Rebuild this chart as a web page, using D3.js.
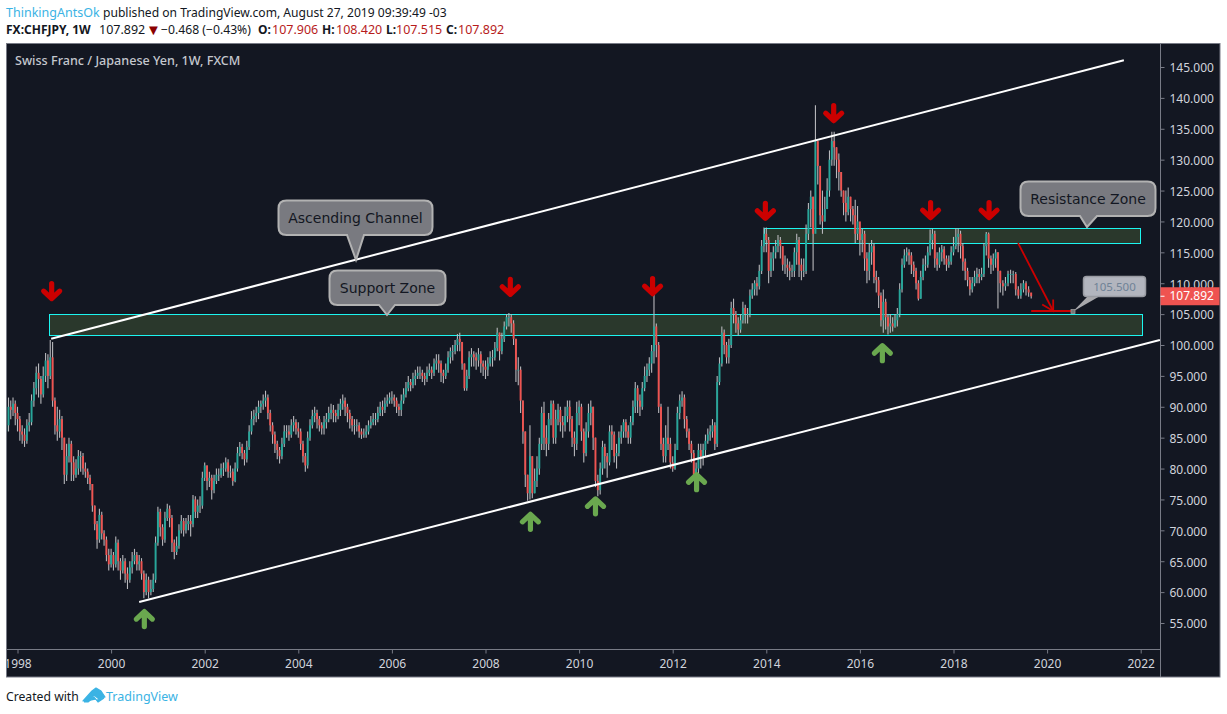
<!DOCTYPE html>
<html><head><meta charset="utf-8">
<script src="https://cdn.jsdelivr.net/npm/d3@7"></script>
<style>html,body{margin:0;padding:0;background:#fff}svg{display:block}text{font-family:"Noto Sans",sans-serif}</style>
</head><body><div id="c"></div>
<script>
// candles per year: [close, high, low]; evenly spread across the year
const y1997=[[87,90,84],[90,91.5,86],[89.5,91,88],[90.5,91.5,88.5],[89,91,87]];
const y1998=[[88,90,86],[86,88.5,84.5],[85.5,87,84],[84.5,86.5,83.5],[87,88,84],[87.5,89,86],[91,92,87],[93,94,90],[95.5,96.5,92],[94.5,97,91.5],[92,95,90.5],[95,96.5,91.5],[97.5,98.7,94],[95,98.5,93],[98,100.8,94.5],[91,100.5,90],[87,91.5,85.5],[86,90,84.5],[88,89.5,85],[85,88.5,83]];
const y1999=[[79,85,77.5],[82,84,78],[84,85,81],[81,84.5,78],[79,82,78],[80,81.5,78.5],[82,83,79],[82,82.8,79.5],[80,82.5,79],[79.5,81,78.5],[78.5,80,77.5],[77.5,79,76.5],[74,77.5,73],[71,74,70],[68.5,71.5,67],[72.5,73.5,68],[69.5,73,68.5],[68.5,70,67.5],[66,69,65],[64.5,67,63.5]];
const y2000=[[66,67,64],[64.5,66.5,63.5],[68,69,64],[65,68.5,63.5],[63.5,65.5,62],[65,66,63],[63,65.5,61.5],[62,64,60.5],[64,65,61.5],[65,66.5,63],[66,67,64.5],[64.5,66.5,63.5],[65,66,63.5],[63,65.5,62],[60,63.5,59],[62,63,59.5],[60,62.5,59],[60.5,62,59.5],[62,63,60],[68,69,61.5]];
const y2001=[[73,73.8,67.5],[70.5,73.5,69],[68.5,71,67.5],[72,73,68],[73.5,74.3,71.5],[72,74,70.5],[68,72.5,66.5],[66.5,68.5,65.3],[67.5,69,66],[70,71,67],[71.5,72.5,69.5],[70,72,69],[71,72,69.5],[71.5,72.5,70],[71,72.5,69],[75,75.7,70.5],[73,75.5,72],[74,75,72],[74,75.5,72.8],[78.5,79.5,73.5]];
const y2002=[[80.5,81,78],[78,80.5,76.5],[78.5,79.5,77],[76.5,79,75],[78,79,76],[79,80,77.5],[79,80,78],[80,80.8,78.5],[80,81,78.8],[81,81.8,79.5],[79.5,81.5,78.5],[79.5,80.5,78.5],[78,80,77.2],[80,81,77.8],[82.5,83.5,79.5],[83.5,84.3,82],[82.5,84,81.5],[81.5,83,80.5],[83.5,84.5,81],[86,87,83]];
const y2003=[[88,89.3,85.5],[88.5,89.5,87],[89,90,87.5],[90,91,88],[90.5,91,89],[91,92,89.5],[91.5,92.6,90],[89,92,88],[87,89.5,86],[85.5,87.5,84],[84,86,82.5],[83,84.5,81.5],[82,83.5,80.8],[84,85,81.5],[86,87,83.5],[86,87,85],[85.5,87,84.5],[87,88,85],[87.5,88.5,86],[86.5,88,85.5]];
const y2004=[[86,87.5,85],[84,86.5,83],[82,84.5,81],[80.5,82.5,79.5],[85,86,80],[87,88,84.5],[88.5,89.5,86.5],[89,90,87.5],[88,89.5,86.5],[87,88.5,86],[86.5,87.5,85.5],[87.5,88.5,85.5],[88,89,86.5],[89,90,87.5],[89.5,90.5,88],[89,90.3,87.5],[88.5,89.5,87.5],[89.5,90.5,88],[90.5,91.3,88.5],[91,92,89.5]];
const y2005=[[90,91.5,88.5],[89,90.5,87.5],[88,89.5,86.5],[87,88.5,86],[87,88,85.5],[87,88,86],[86,87.5,85],[85.5,86.5,84.8],[85.5,86.5,85],[86,87,85],[87,87.8,85.5],[87.5,88.5,86.5],[88,89,87],[88,89,87],[89,90,87.5],[90,90.8,88.5],[89.5,91,88.5],[90.5,91.5,89],[91,92,90],[91.5,92.3,90.5]];
const y2006=[[91.5,92.5,90.5],[91,92,90],[90,91.5,89],[89.5,90.5,88.5],[91,92,88.5],[92,93,90.5],[93,94,91.5],[94,95,92.5],[93.5,94.5,92.5],[94.5,95.5,93],[95,96,93.5],[95.5,96.5,94.5],[95.5,96.5,94.5],[95,96,94],[94.5,95.5,93.5],[95.5,96.5,94],[96,97,95],[95.5,96.5,94.5],[97,97.8,95],[97.5,98.5,96]];
const y2007=[[97,98.5,95.5],[95.5,97.5,94],[95,96,93.8],[96,97,94.5],[98,99,95.5],[99,99.6,97],[99,100,97.5],[100,100.8,98.5],[101,101.8,99],[100.5,102,99],[97,100.5,96],[93,97,92.6],[95,96,92.6],[98,99,94.5],[98.5,99.5,96.5],[98,99,96.5],[97.5,98.8,96],[98.5,99.5,96.5],[97,99,95.5],[96.5,97.5,95]];
const y2008=[[96,97.5,94.5],[97,98,95],[98,99,96.5],[98,99.2,96.5],[99.5,100.5,97.5],[102,102.8,99],[99,102,97.5],[101,102,98.5],[103,103.8,100.5],[104.5,105,102.5],[104.5,105.2,103],[103.5,105,102],[101,104,100],[96,101,94],[96,98,93.5],[91,96.5,89],[86,91,84],[79,86,77],[76,79,74.8],[82,87,75]];
const y2009=[[76,82,75.2],[78,80,76],[80,82,77],[84,85,79],[89,90,83],[85,90.8,83],[84,87,82],[88,89,83],[90.5,91,87],[85,91,84],[88,89.5,84],[89.5,90.5,87],[87.5,90,86],[87,88.5,85],[88.5,90,86],[90,91,87.5],[88,91,86],[85,88.5,83.5],[84,86,82],[89,90.8,83]];
const y2010=[[90,91,87],[86,90.5,84.5],[82.5,86.5,81],[86,87.5,82],[89,90.5,85],[90,91,87],[85,90,83],[78,85,77],[76.5,79,75.5],[80,81,75.8],[83.5,84.5,79],[82,84,80],[81,82.5,78.5],[86,87,80.5],[85.5,87,83],[82,86,81],[82.5,84,80],[85,86,82],[86,87,84],[87.5,88,85]];
const y2011=[[86,88,85],[85,87,84],[87.5,88.5,84],[90,91,87],[93,94,89],[91,93.5,89],[90,92,88.5],[93,94,89.5],[95,96.5,92.5],[96,97,94],[97,98,95],[99,100,95.5],[103,108.8,97],[100,103.5,98],[90,100.5,89],[84,90.5,83],[82,85,81],[85,87,81],[84,90,83],[81,85,80]];
const y2012=[[80,82,79.5],[83,84,79.8],[89,90,83],[91,92,88],[91.5,92.5,90],[88,92,86.5],[86,88.5,85],[84,86.5,83],[82.5,84.5,81],[79,83,78.5],[80,81,78],[83,84,79],[82,84,80],[83,84,80.5],[84.5,85.5,82],[85.5,86.5,84],[86,87,84.5],[87,88,85],[84,87.5,83],[94,95,83.5]];
const y2013=[[97,98,93.5],[102,103,96.5],[100,102.5,98.5],[98,100.5,97],[100,101,97],[106,107,99.5],[105,107.5,103.5],[103.5,105.5,102],[102.5,104.5,101.5],[104,105,102],[106,107,103.5],[105,106.5,103.5],[105,106,103.5],[108,109,104.5],[109,110,107.5],[110,110.5,108],[109.5,111,108],[112,113,109],[116,117,111.5],[118,119,115]];
const y2014=[[117,119,115],[112,117.5,110],[114,115,111],[115,116,112],[116,117,114],[117,117.8,115],[116,117.5,114],[113,116,112],[113,114.5,111.5],[112.5,114,111],[112,113.5,110.5],[112,113,111],[115,115.8,111],[117,118,113],[113,117.5,111],[112,114,110.5],[112,114,111],[118,119.5,111.5],[122,123,117],[124,125,119]];
const y2015=[[118,124,112],[133,138.8,122],[129,133,126],[121,126,119.5],[120,125,118],[122,124,120],[125,127,122],[130,131.5,124],[133,134.5,129],[132,134.5,129],[130,132,127],[128,131,125],[125,128,124],[123,125,121],[121.5,125,120],[124,125.5,121],[122,124,120],[121,122.5,119.5],[118,123.5,116.5],[120,122.5,117]];
const y2016=[[117,119,114.5],[118,118.8,115],[114,118.5,112],[112,115,110],[115,116.5,110.5],[116,117,113],[111,116.5,110],[110.5,112,108.5],[108,111,106],[104,108.5,103],[107,109,102],[104.5,107.5,102.5],[103,105,101.7],[103.5,105,102],[103,104.5,102.2],[104,105,102.8],[105,106,103],[109,110,104.5],[113,114,108.5],[114.5,115.5,112.5]];
const y2017=[[115,115.8,113.5],[114.5,115.5,113],[113,115,111.5],[112,113.5,111],[110,112.5,109],[107.5,110.5,107.2],[111,112,107.5],[113,114,110.5],[113,114.5,112],[115,116,112.5],[117,118.7,114.5],[118,118.8,115.5],[114,118.5,112.5],[113,115,112],[115,115.8,112.5],[115.5,116.2,113.5],[114,116,113],[113,114.5,112],[113.5,114.5,112.5],[115,116,113]];
const y2018=[[116,117.5,114.5],[117.5,118.9,115.5],[118,118.9,115],[116,118.5,114],[113.5,116.5,112],[112,114,110.5],[110.5,112.5,109.5],[109,111,108],[110,111,108.5],[111,112,109.5],[111.5,112.5,110],[111,112.3,110],[111.5,112.5,110.5],[116,116.5,111],[118,118.3,114.5],[114,118.2,112.5],[113,114.5,111.5],[114,114.8,112],[115,115.5,112.5],[112,115,105.9]];
const y2019=[[110,112,108.5],[109.5,110.5,108],[110,111,108.8],[111.5,112,109.5],[111.5,112.2,110],[111.5,112,110],[109,111.8,108],[108,109.5,107.5],[109,110,107.5],[110,110.5,108.5],[109,110.3,108],[108.5,109.5,107.8],[107.892,108.42,107.515]];
const yearStarts=[1997.76,1998,1999,2000,2001,2002,2003,2004,2005,2006,2007,2008,2009,2010,2011,2012,2013,2014,2015,2016,2017,2018,2019];
const yearEnds=[1998,1999,2000,2001,2002,2003,2004,2005,2006,2007,2008,2009,2010,2011,2012,2013,2014,2015,2016,2017,2018,2019,2019.66];
const yearRows=[y1997,y1998,y1999,y2000,y2001,y2002,y2003,y2004,y2005,y2006,y2007,y2008,y2009,y2010,y2011,y2012,y2013,y2014,y2015,y2016,y2017,y2018,y2019];

const xTicks=[1998,2000,2002,2004,2006,2008,2010,2012,2014,2016,2018,2020,2022];
const yTicks=[55,60,65,70,75,80,85,90,95,100,105,110,115,120,125,130,135,140,145];
const channelUpper=[[1998.72,101],[2021.64,146.1]];
const channelLower=[[2000.6,58.4],[2022.41,100.8]];
const zoneSupport=[1998.69,2022.04,105,101.6];
const zoneResistance=[2013.97,2021.99,118.8,116.5];
const downYears=[1998.73,2008.53,2011.57,2013.98,2015.44,2017.51,2018.76];
const downPrices=[107.1,107.8,107.9,120.1,135.9,120.2,120.2];
const upYears=[2000.71,2008.96,2010.35,2012.51,2016.48];
const upPrices=[57.25,73,75.5,79.4,100.3];
const lastPrice=107.892, targetPrice=105.5;
const projection=[[2019.38,116.5],[2020.13,105.5]];
const targetLine=[[2019.66,105.5],[2020.55,105.5]];

const W=1227,H=714,L=7,R=1160,T=44,B=650,FB=677,FR=1220;
const x=d3.scaleLinear().domain([1998,2022]).range([17.5,1140.7]);
const y=d3.scaleLinear().domain([55,145]).range([623,67]);
const svg=d3.select("#c").append("svg").attr("width",W).attr("height",H);
const defs=svg.append("defs");
defs.append("clipPath").attr("id","plot").append("rect").attr("x",L).attr("y",T).attr("width",R-L).attr("height",B-T);
defs.append("clipPath").attr("id","xa").append("rect").attr("x",L).attr("y",B).attr("width",R-L).attr("height",FB-B);

svg.append("rect").attr("x",6.5).attr("y",43.5).attr("width",FR-6.5).attr("height",FB-43.5).attr("fill","#131722").attr("stroke","#787b86");

// header
const hdr=(t,xp,yp,o={})=>svg.append("text").attr("x",xp).attr("y",yp).text(t).attr("font-size",o.s||12).attr("font-weight",o.b?700:400).attr("fill",o.c||"#131722");
hdr("ThinkingAntsOk",6,17,{c:"#3bb3e4",s:12.5});
hdr("published on TradingView.com, August 27, 2019 09:39:49 -03",103,17,{s:12.1});
hdr("FX:CHFJPY, 1W",6,34,{b:1,s:12});
hdr("107.892",99,34,{s:12.5});
hdr("▼",146,35,{c:"#8b0000",s:15});
hdr("−0.468 (−0.43%)",161,34,{s:12.2});
[["O:",258,"107.906",272],["H:",322,"108.420",336],["L:",386,"107.515",396],["C:",446,"107.892",458]].forEach(d=>{
  hdr(d[0],d[1],34,{b:1,s:12});hdr(d[2],d[3],34,{c:"#b71c1c",s:12.5});
});
hdr("Created with",6,701,{s:12.2});
hdr("TradingView",106,701,{c:"#3bb3e4",s:12.5});
svg.append("path").attr("d","M83,701 L92,691 L96,688 L101,691 L105,697 L99,699 L94,695 L88,701 Z M84,702 L88,702 L94,697 L98,702 L104,698").attr("fill","#3bb3e4").attr("stroke","#3bb3e4").attr("stroke-width",1.2).attr("stroke-linejoin","round");

// axes
const yAxis=svg.append("g").attr("transform",`translate(${R+.5},0)`).call(d3.axisRight(y).tickValues(yTicks).tickFormat(d3.format(".3f")).tickSize(4).tickPadding(5));
yAxis.select(".domain").attr("d",`M0,${T}V${FB}`).attr("stroke","#787b86");
yAxis.selectAll(".tick line").attr("stroke","#787b86");
yAxis.selectAll("text").attr("fill","#d1d4dc").attr("font-size",12).attr("y",1);
const xAxis=svg.append("g").attr("clip-path","url(#xa)").append("g").attr("transform",`translate(0,${B-.5})`).call(d3.axisBottom(x).tickValues(xTicks).tickFormat(d3.format("d")).tickSize(4).tickPadding(6));
xAxis.select(".domain").attr("d",`M${L},0H${R}`).attr("stroke","#787b86");
xAxis.selectAll(".tick line").attr("stroke","#787b86");
xAxis.selectAll("text").attr("fill","#d1d4dc").attr("font-size",12);
svg.append("line").attr("x1",L).attr("x2",R).attr("y1",B-.5).attr("y2",B-.5).attr("stroke","#787b86");

svg.append("text").attr("x",15).attr("y",65).text("Swiss Franc / Japanese Yen, 1W, FXCM").attr("font-size",12.6).attr("font-weight",500).attr("fill","#c4c7ce");

const plot=svg.append("g").attr("clip-path","url(#plot)");

// zones below candles
[zoneSupport,zoneResistance].forEach(z=>{
  plot.append("rect").attr("x",x(z[0])).attr("y",y(z[2])).attr("width",x(z[1])-x(z[0])).attr("height",y(z[3])-y(z[2]))
   .attr("fill","#2a382c").attr("stroke","#1cf5f0").attr("stroke-width",1).attr("shape-rendering","crispEdges");
});

// candles
const candles=[];
let prev=y1997[0][0]-1;
yearRows.forEach((rows,i)=>{
  rows.forEach((r,j)=>{
    candles.push({t:yearStarts[i]+(yearEnds[i]-yearStarts[i])*j/(i===22?rows.length-1:rows.length),o:prev,c:r[0],h:r[1],l:r[2]});
    prev=r[0];
  });
});
plot.append("g").selectAll("line").data(candles).join("line")
 .attr("x1",d=>x(d.t)).attr("x2",d=>x(d.t)).attr("y1",d=>y(d.h)).attr("y2",d=>y(d.l))
 .attr("stroke","#b8b8bc").attr("stroke-width",1.1);
plot.append("g").selectAll("rect").data(candles).join("rect")
 .attr("x",d=>x(d.t)-.95).attr("width",1.9)
 .attr("y",d=>y(Math.max(d.o,d.c))).attr("height",d=>Math.max(.8,Math.abs(y(d.o)-y(d.c))))
 .attr("fill",d=>d.c>=d.o?"#26a69a":"#ef5350");

// channels
const ln=d3.line().x(d=>x(d[0])).y(d=>y(d[1]));
[channelUpper,channelLower].forEach(c=>plot.append("path").attr("d",ln(c)).attr("stroke","#fff").attr("stroke-width",2).attr("fill","none"));

// arrows
const arrow=(yr,p,dir,col)=>{
 plot.append("path").attr("transform",`translate(${x(yr)},${y(p)}) scale(1,${dir})`)
  .attr("d","M0,-17.5V-3M-8,-10L0,-2.5L8,-10").attr("fill","none").attr("stroke",col).attr("stroke-width",5.2).attr("stroke-linecap","round").attr("stroke-linejoin","round");
};
downYears.forEach((d,i)=>arrow(d,downPrices[i],1,"#cc0000"));
upYears.forEach((d,i)=>arrow(d,upPrices[i],-1,"#6aa84f"));

// projection
plot.append("path").attr("d",ln(projection)).attr("stroke","#cc0000").attr("stroke-width",1.8).attr("fill","none");
const px=x(projection[1][0]),py=y(projection[1][1]);
plot.append("path").attr("d",`M${px-11},${py-6.5}L${px},${py}L${px},${py-11.5}`).attr("stroke","#cc0000").attr("stroke-width",1.8).attr("fill","none");
plot.append("path").attr("d",ln(targetLine)).attr("stroke","#cc0000").attr("stroke-width",1.8).attr("fill","none");

// callouts
const callout=(t,x0,x1,y0,y1,b0,b1,tx,ty)=>{
 const r=8;
 const d=`M${x0+r},${y0}H${x1-r}Q${x1},${y0} ${x1},${y0+r}V${y1-r}Q${x1},${y1} ${x1-r},${y1}H${b1}L${tx},${ty}L${b0},${y1}H${x0+r}Q${x0},${y1} ${x0},${y1-r}V${y0+r}Q${x0},${y0} ${x0+r},${y0}Z`;
 svg.append("path").attr("d",d).attr("fill","#797a80").attr("stroke","#b2b2b2").attr("stroke-width",2);
 svg.append("text").attr("x",(x0+x1)/2).attr("y",(y0+y1)/2+5).attr("text-anchor","middle").text(t).attr("fill","#131722").attr("font-size",14).attr("letter-spacing",0).style("font-family","DejaVu Sans");
};
callout("Ascending Channel",278.5,432.5,200.5,235,347,364,356,260);
callout("Support Zone",329.5,445.5,270.5,305,379,395,387,315);
callout("Resistance Zone",1020.5,1155.5,181.5,216,1080,1097,1087,227);

// price label
svg.append("path").attr("d","M1073,311.5L1088,296L1100,296Z").attr("fill","#a8a8ac");
svg.append("rect").attr("x",1083.5).attr("y",276.5).attr("width",62).attr("height",20).attr("rx",3).attr("fill","#b2b5be").attr("stroke","#999ba2").attr("stroke-width",1.5);
svg.append("text").attr("x",1114.5).attr("y",290.5).attr("text-anchor","middle").text(targetPrice.toFixed(3)).attr("fill","#6f8296").attr("font-size",11.5);
svg.append("rect").attr("x",1071).attr("y",309.5).attr("width",4).attr("height",4).attr("fill","#777").attr("stroke","#999").attr("stroke-width",.8);

// last price
const lastY=y(lastPrice);
svg.append("rect").attr("x",R+.5).attr("y",lastY-9).attr("width",FR-R-1).attr("height",18).attr("fill","#ef5350");
svg.append("line").attr("x1",R+.5).attr("x2",R+4.5).attr("y1",lastY).attr("y2",lastY).attr("stroke","#fff");
svg.append("text").attr("x",R+9.5).attr("y",lastY+4.2).text(lastPrice.toFixed(3)).attr("fill","#fff").attr("font-size",12);
</script></body></html>
